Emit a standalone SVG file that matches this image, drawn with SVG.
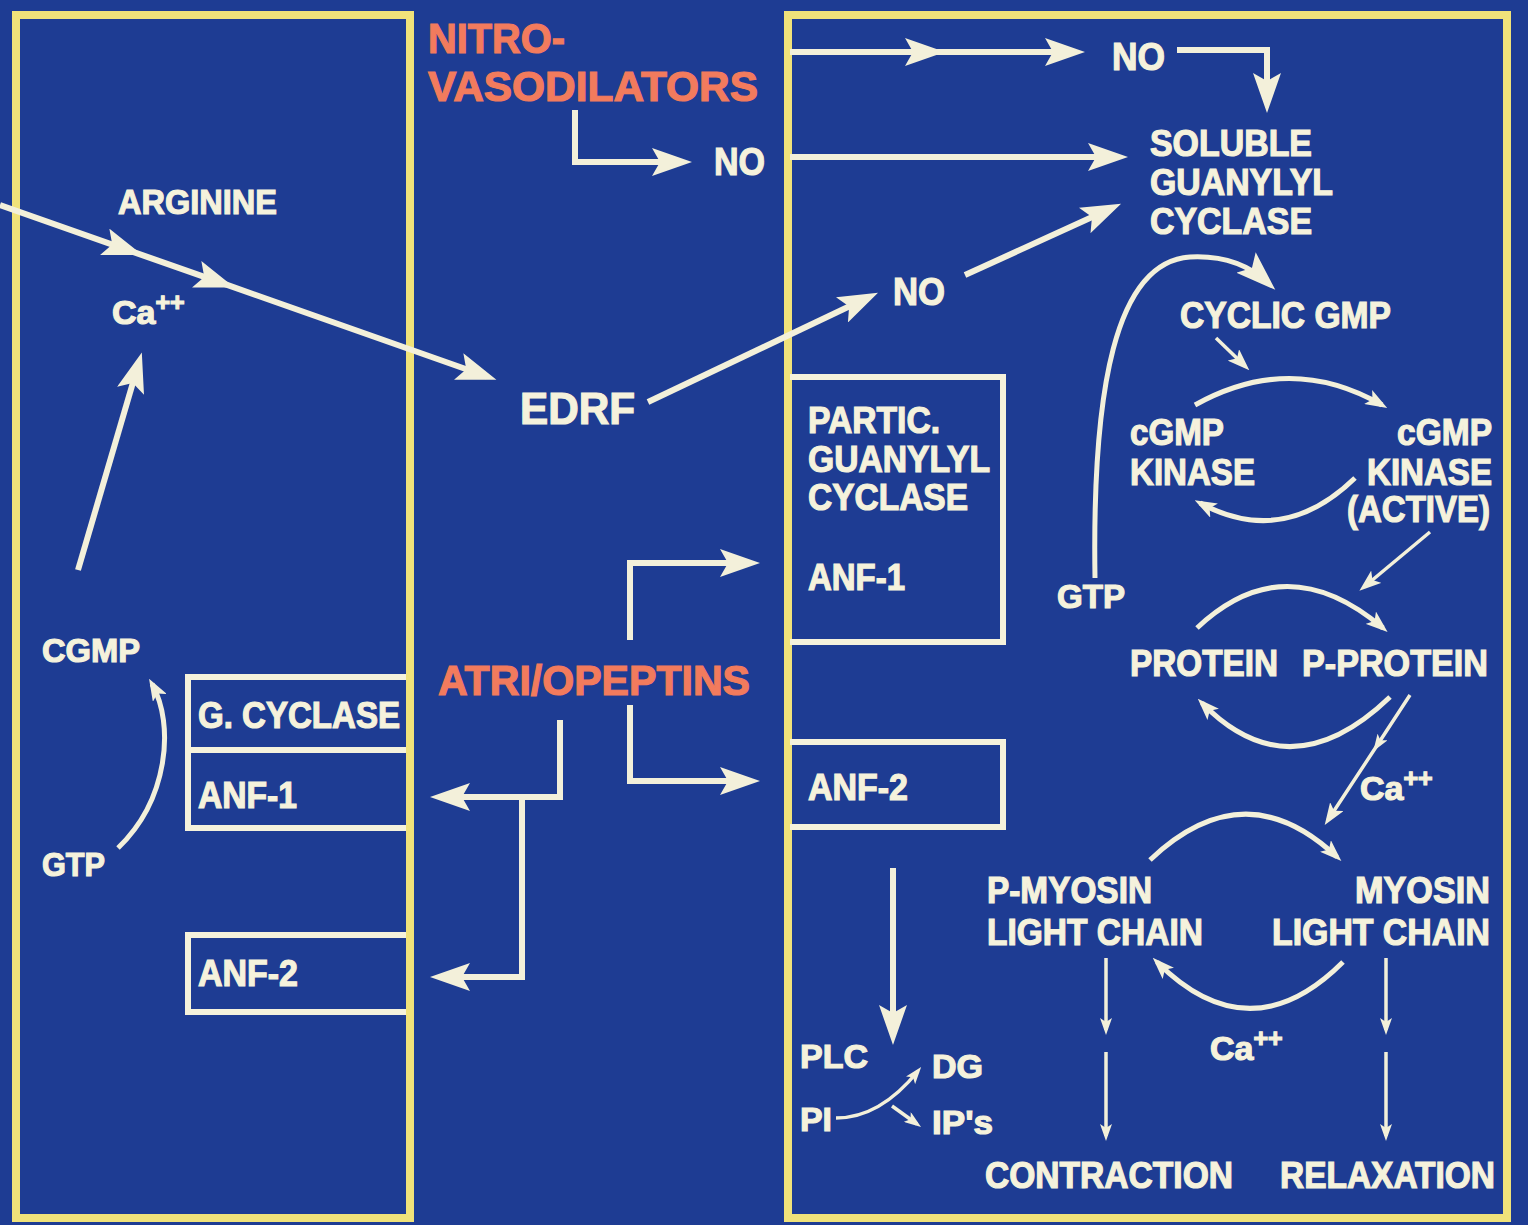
<svg xmlns="http://www.w3.org/2000/svg" width="1528" height="1225" viewBox="0 0 1528 1225">
<defs>
<style>
.t{font-family:"Liberation Sans",Arial,sans-serif;font-weight:bold;fill:#f5f2dc;stroke:#f5f2dc;stroke-width:1.2}
.o{font-family:"Liberation Sans",Arial,sans-serif;font-weight:bold;fill:#f27b5d;stroke:#f27b5d;stroke-width:1.2;font-size:42px}
.m{font-size:36px}
.frame{fill:none;stroke:#f0e27a;stroke-width:8}
.box{fill:none;stroke:#f5f2dc;stroke-width:6}
.c{fill:none;stroke:#f3f0da;stroke-width:6}
.a{fill:none;stroke:#f3f0da;stroke-width:5}
.d{fill:none;stroke:#f3f0da;stroke-width:3.5}
</style>
<marker id="big" markerUnits="userSpaceOnUse" viewBox="0 0 40 28" refX="30" refY="14" markerWidth="40" markerHeight="28" orient="auto">
<path d="M40,14 L0,0 L8,14 L0,28 Z" fill="#f3f0da"/>
</marker>
<marker id="sm" markerUnits="userSpaceOnUse" viewBox="0 0 22 16" refX="16" refY="8" markerWidth="22" markerHeight="16" orient="auto">
<path d="M22,8 L0,0 L5,8 L0,16 Z" fill="#f3f0da"/>
</marker>
<marker id="xs" markerUnits="userSpaceOnUse" viewBox="0 0 17 12" refX="12" refY="6" markerWidth="17" markerHeight="12" orient="auto">
<path d="M17,6 L0,0 L4,6 L0,12 Z" fill="#f3f0da"/>
</marker>
</defs>
<rect x="0" y="0" width="1528" height="1225" fill="#1e3c93"/>
<g id="frames">
<rect class="frame" x="16" y="15" width="394" height="1203"/>
<rect class="frame" x="788" y="15" width="719" height="1203"/>
</g>
<g id="connectors">
<polyline class="c" points="0,205 133,251.8 225,284.2 487,376.5" marker-mid="url(#big)" marker-end="url(#big)"/>
<path class="c" d="M78,570 L139,362" marker-end="url(#big)"/>
<path class="a" d="M118,848 C168,800 175,725 152,684" marker-end="url(#sm)"/>
<path class="c" d="M575,110 V162 H682" marker-end="url(#big)"/>
<path class="c" d="M560,720 V797 H440" marker-end="url(#big)"/>
<path class="c" d="M522,797 V977 H440" marker-end="url(#big)"/>
<path class="c" d="M630,640 V563 H750" marker-end="url(#big)"/>
<path class="c" d="M630,705 V781 H750" marker-end="url(#big)"/>
<path class="c" d="M648,402 L869,297" marker-end="url(#big)"/>
<path class="c" d="M965,275 L1112,208" marker-end="url(#big)"/>
<polyline class="c" points="790,52 935,52 1075,52" marker-mid="url(#big)" marker-end="url(#big)"/>
<path class="c" d="M1177,50 H1267 V103" marker-end="url(#big)"/>
<path class="c" d="M790,157 H1118" marker-end="url(#big)"/>
<path class="a" d="M1095,578 C1092,390 1115,262 1190,257 C1228,255 1252,268 1268,283" marker-end="url(#big)"/>
<path class="d" d="M1216,338 L1245,366" marker-end="url(#sm)"/>
<path class="a" d="M1195,405 Q1290,352 1382,405" marker-end="url(#sm)"/>
<path class="a" d="M1355,478 Q1283,548 1200,503" marker-end="url(#sm)"/>
<path class="d" d="M1430,532 L1364,587" marker-end="url(#sm)"/>
<path class="a" d="M1197,628 Q1285,545 1383,628" marker-end="url(#sm)"/>
<path class="a" d="M1390,697 Q1290,793 1202,703" marker-end="url(#sm)"/>
<polyline class="d" points="1410,695 1376,747 1328,820" marker-mid="url(#xs)" marker-end="url(#sm)"/>
<path class="a" d="M1150,860 Q1245,770 1337,857" marker-end="url(#sm)"/>
<path class="a" d="M1343,962 Q1250,1055 1157,962" marker-end="url(#sm)"/>
<path class="d" d="M1106,958 V1030" marker-end="url(#xs)"/>
<path class="d" d="M1106,1052 V1136" marker-end="url(#xs)"/>
<path class="d" d="M1386,958 V1030" marker-end="url(#xs)"/>
<path class="d" d="M1386,1052 V1136" marker-end="url(#xs)"/>
<path class="c" d="M893,868 V1035" marker-end="url(#big)"/>
<path class="d" d="M836,1118 Q880,1118 918,1071" marker-end="url(#xs)"/>
<path class="d" d="M892,1106 L917,1124" marker-end="url(#xs)"/>
</g>
<g id="n-nitro"><text class="o" x="428" y="53" textLength="137" lengthAdjust="spacingAndGlyphs">NITRO-</text><text class="o" x="428" y="101" textLength="330" lengthAdjust="spacingAndGlyphs">VASODILATORS</text></g>
<g id="n-no1"><text class="t" x="714" y="175" font-size="38" textLength="51" lengthAdjust="spacingAndGlyphs">NO</text></g>
<g id="n-edrf"><text class="t" x="520" y="424" font-size="44" textLength="115" lengthAdjust="spacingAndGlyphs">EDRF</text></g>
<g id="n-arginine"><text class="t" x="118" y="214" font-size="35" textLength="159" lengthAdjust="spacingAndGlyphs">ARGININE</text></g>
<g id="n-ca1"><text class="t" x="112" y="324" font-size="34">Ca<tspan dy="-13" font-size="25">++</tspan></text></g>
<g id="n-cgmp"><text class="t" x="42" y="662" font-size="34" textLength="98" lengthAdjust="spacingAndGlyphs">CGMP</text></g>
<g id="n-gtp1"><text class="t" x="42" y="876" font-size="33" textLength="63" lengthAdjust="spacingAndGlyphs">GTP</text></g>
<g id="n-gcyc"><path class="box" d="M406,677 H188 V828 H406 M188,750 H406"/><text class="t m" x="198" y="728" textLength="202" lengthAdjust="spacingAndGlyphs">G. CYCLASE</text><text class="t m" x="198" y="808" textLength="99" lengthAdjust="spacingAndGlyphs">ANF-1</text></g>
<g id="n-anf2l"><path class="box" d="M406,935 H188 V1012 H406"/><text class="t m" x="198" y="986" textLength="100" lengthAdjust="spacingAndGlyphs">ANF-2</text></g>
<g id="n-atrio"><text class="o" x="438" y="695" textLength="312" lengthAdjust="spacingAndGlyphs">ATRI/OPEPTINS</text></g>
<g id="n-no2"><text class="t" x="1112" y="70" font-size="38" textLength="53" lengthAdjust="spacingAndGlyphs">NO</text></g>
<g id="n-sgc"><text class="t m" x="1150" y="156" textLength="162" lengthAdjust="spacingAndGlyphs">SOLUBLE</text><text class="t m" x="1150" y="195" textLength="183" lengthAdjust="spacingAndGlyphs">GUANYLYL</text><text class="t m" x="1150" y="234" textLength="162" lengthAdjust="spacingAndGlyphs">CYCLASE</text></g>
<g id="n-no3"><text class="t" x="893" y="305" font-size="38" textLength="52" lengthAdjust="spacingAndGlyphs">NO</text></g>
<g id="n-pgc"><path class="box" d="M790,377 H1003 V642 H790"/><text class="t m" x="808" y="433" textLength="132" lengthAdjust="spacingAndGlyphs">PARTIC.</text><text class="t m" x="808" y="472" textLength="182" lengthAdjust="spacingAndGlyphs">GUANYLYL</text><text class="t m" x="808" y="510" textLength="160" lengthAdjust="spacingAndGlyphs">CYCLASE</text><text class="t m" x="808" y="590" textLength="97" lengthAdjust="spacingAndGlyphs">ANF-1</text></g>
<g id="n-anf2r"><path class="box" d="M790,742 H1003 V827 H790"/><text class="t m" x="808" y="800" textLength="100" lengthAdjust="spacingAndGlyphs">ANF-2</text></g>
<g id="n-cyclic"><text class="t m" x="1180" y="328" textLength="211" lengthAdjust="spacingAndGlyphs">CYCLIC GMP</text></g>
<g id="n-kin"><text class="t m" x="1130" y="445" textLength="94" lengthAdjust="spacingAndGlyphs">cGMP</text><text class="t m" x="1130" y="485" textLength="125" lengthAdjust="spacingAndGlyphs">KINASE</text></g>
<g id="n-kinact"><text class="t m" x="1397" y="445" textLength="95" lengthAdjust="spacingAndGlyphs">cGMP</text><text class="t m" x="1367" y="485" textLength="125" lengthAdjust="spacingAndGlyphs">KINASE</text><text class="t m" x="1347" y="522" textLength="143" lengthAdjust="spacingAndGlyphs">(ACTIVE)</text></g>
<g id="n-gtp2"><text class="t" x="1057" y="608" font-size="34" textLength="68" lengthAdjust="spacingAndGlyphs">GTP</text></g>
<g id="n-protein"><text class="t m" x="1130" y="676" textLength="148" lengthAdjust="spacingAndGlyphs">PROTEIN</text></g>
<g id="n-pprotein"><text class="t m" x="1302" y="676" textLength="186" lengthAdjust="spacingAndGlyphs">P-PROTEIN</text></g>
<g id="n-ca2"><text class="t" x="1360" y="800" font-size="34">Ca<tspan dy="-13" font-size="25">++</tspan></text></g>
<g id="n-pmlc"><text class="t m" x="987" y="903" textLength="165" lengthAdjust="spacingAndGlyphs">P-MYOSIN</text><text class="t m" x="987" y="945" textLength="216" lengthAdjust="spacingAndGlyphs">LIGHT CHAIN</text></g>
<g id="n-mlc"><text class="t m" x="1355" y="903" textLength="135" lengthAdjust="spacingAndGlyphs">MYOSIN</text><text class="t m" x="1272" y="945" textLength="218" lengthAdjust="spacingAndGlyphs">LIGHT CHAIN</text></g>
<g id="n-ca3"><text class="t" x="1210" y="1060" font-size="34">Ca<tspan dy="-13" font-size="25">++</tspan></text></g>
<g id="n-contraction"><text class="t m" x="985" y="1188" textLength="248" lengthAdjust="spacingAndGlyphs">CONTRACTION</text></g>
<g id="n-relaxation"><text class="t m" x="1280" y="1188" textLength="215" lengthAdjust="spacingAndGlyphs">RELAXATION</text></g>
<g id="n-plc"><text class="t" x="800" y="1068" font-size="34" textLength="68" lengthAdjust="spacingAndGlyphs">PLC</text></g>
<g id="n-dg"><text class="t" x="932" y="1078" font-size="34" textLength="51" lengthAdjust="spacingAndGlyphs">DG</text></g>
<g id="n-pi"><text class="t" x="800" y="1131" font-size="34" textLength="32" lengthAdjust="spacingAndGlyphs">PI</text></g>
<g id="n-ips"><text class="t" x="932" y="1134" font-size="34" textLength="61" lengthAdjust="spacingAndGlyphs">IP's</text></g>
</svg>
